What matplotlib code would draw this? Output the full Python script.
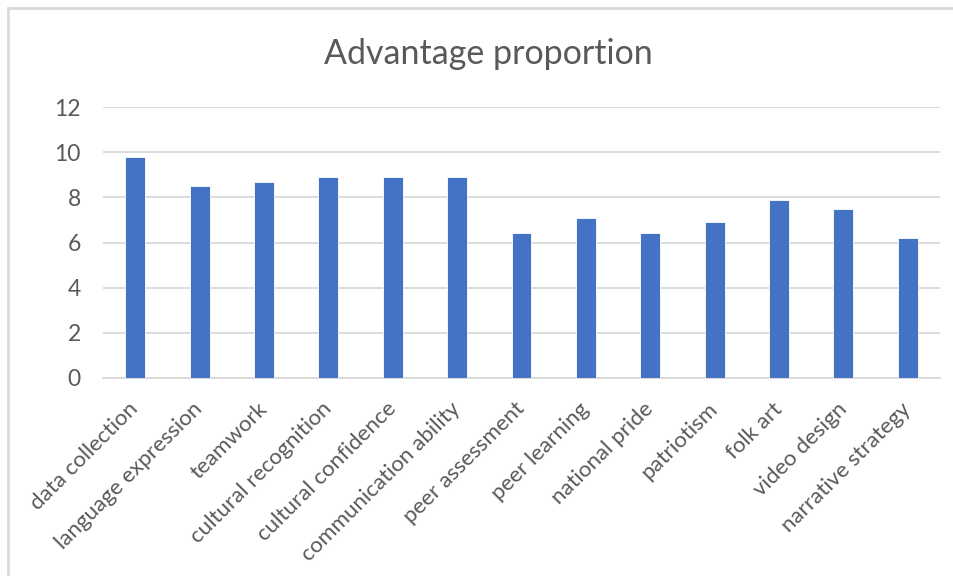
import matplotlib
matplotlib.use("Agg")
import matplotlib.pyplot as plt
from matplotlib.patches import Rectangle

# data
categories = [
    "data collection", "language expression", "teamwork", "cultural recognition",
    "cultural confidence", "communication ability", "peer assessment",
    "peer learning", "national pride", "patriotism", "folk art",
    "video design", "narrative strategy",
]
values = [9.8, 8.5, 8.7, 8.9, 8.9, 8.9, 6.4, 7.1, 6.4, 6.9, 7.9, 7.5, 6.2]
yticks = [0, 2, 4, 6, 8, 10, 12]

BAR = "#4472C4"
GRID = "#D9D9D9"
TEXT = "#595959"

plt.rcParams["font.family"] = ["Lato", "DejaVu Sans"]

fig = plt.figure(figsize=(9.54, 5.76), dpi=100)

# chart frame (cut off at right and bottom like the screenshot)
fig.patches.append(Rectangle((8 / 954, -0.05), 1.1, 1 - 8 / 576 + 0.05,
                             transform=fig.transFigure, fill=False,
                             edgecolor=GRID, linewidth=2))

ax = fig.add_axes([103 / 954, 1 - 378 / 576, 837 / 954, 271 / 576])
x = range(len(categories))
ax.bar(x, values, width=0.31, color=BAR, edgecolor="white", linewidth=0.6, zorder=3)

ax.set_ylim(0, 12)
ax.set_xlim(-0.5, len(categories) - 0.5)
ax.set_yticks(yticks)
ax.yaxis.grid(True, color=GRID, linewidth=1.3, zorder=0)
for s in ["top", "right", "left"]:
    ax.spines[s].set_visible(False)
ax.spines["bottom"].set_color(GRID)
ax.spines["bottom"].set_linewidth(1.3)

ax.tick_params(axis="y", length=0, pad=16, labelsize=16.5, labelcolor=TEXT)
ax.tick_params(axis="x", length=0, pad=20, labelsize=16, labelcolor=TEXT)
ax.set_xticks(list(x))
ax.set_xticklabels(categories, rotation=45, ha="right", va="center",
                   rotation_mode="anchor")

fig.text(488 / 954, 1 - 54 / 576, "Advantage proportion", ha="center",
         va="center", fontsize=24.5, color=TEXT)

fig.savefig("out.png", dpi=100)
